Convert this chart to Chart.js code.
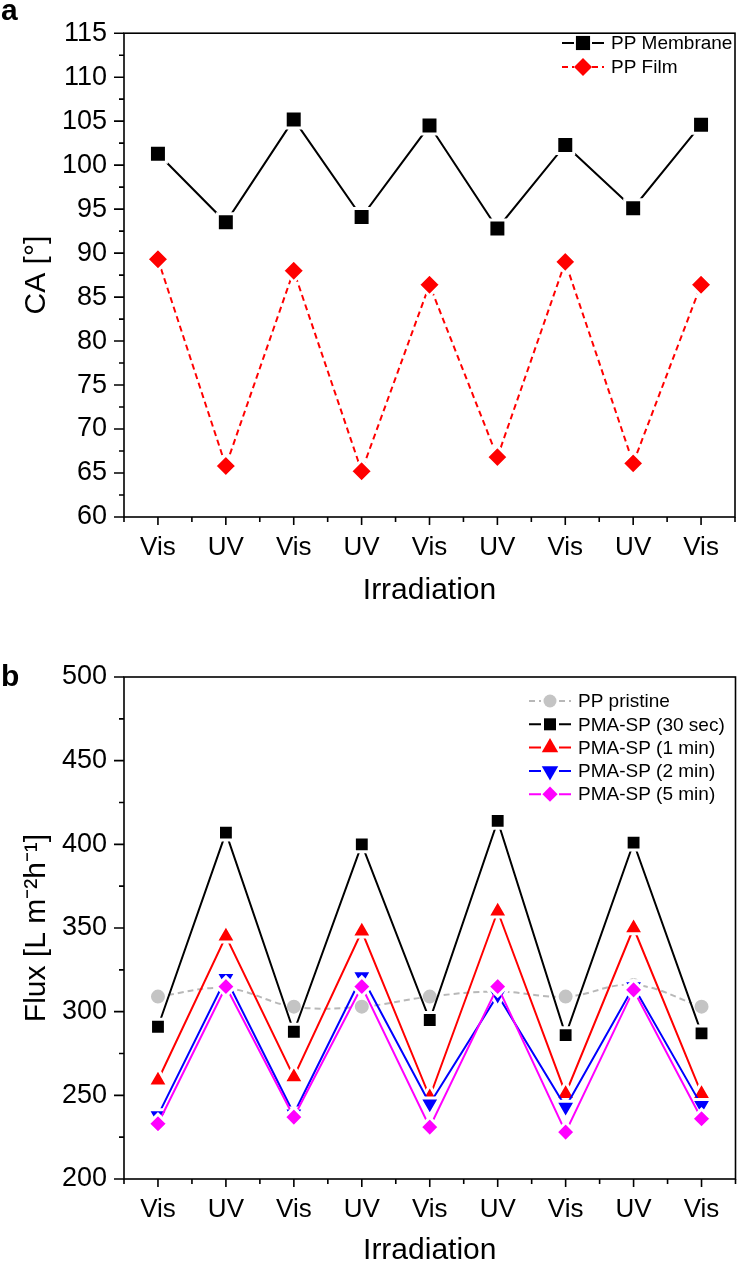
<!DOCTYPE html>
<html>
<head>
<meta charset="utf-8">
<script src="https://cdn.jsdelivr.net/npm/chart.js@4.4.0/dist/chart.umd.min.js"></script>
<style>
  html, body { margin: 0; padding: 0; background: #fff; }
  #wrap { position: relative; width: 750px; height: 1269px; font-family: "Liberation Sans", Arial, sans-serif; }
  .panel { position: absolute; left: 0; width: 750px; }
  .tag { position: absolute; left: 1px; font-weight: bold; font-size: 30px; line-height: 1; }
</style>
</head>
<body>
<div id="wrap">
  <div class="panel" style="top:0;height:630px"><canvas id="chartA" width="750" height="630"></canvas></div>
  <div class="panel" style="top:630px;height:639px"><canvas id="chartB" width="750" height="639"></canvas></div>
  <div class="tag" style="top:-5px">a</div>
  <div class="tag" style="top:661px">b</div>
</div>
<script>
// categories
const irradiation = ["Vis", "UV", "Vis", "UV", "Vis", "UV", "Vis", "UV", "Vis"];

// panel a: contact angle
const caMembrane = [101.3, 93.5, 105.2, 94.1, 104.5, 92.8, 102.3, 95.1, 104.6];
const caFilm = [89.3, 65.8, 88.0, 65.2, 86.4, 66.8, 89.0, 66.1, 86.4];
const caAxis = [60, 115, 5]; // min, max, step

// panel b: flux
const fluxPristine = [309, 314, 303, 303, 309, 312, 309, 316, 303];
const flux30s = [291, 407, 288, 400, 295, 414, 286, 401, 287];
const flux1min = [259, 345, 261, 348, 249, 360, 251, 350, 251];
const flux2min = [238, 320, 239, 321, 245, 310, 243, 315, 244];
const flux5min = [233, 315, 237, 315, 231, 315, 228, 313, 236];
const fluxAxis = [200, 500, 50];

const FONT = "'Liberation Sans', Arial, sans-serif";

const pts = (arr) => arr.map((v, i) => ({ x: i, y: v }));

// frame box + outward major/minor ticks (Origin style)
const frameTicks = {
  id: "frameTicks",
  afterDatasetsDraw(chart, args, opts) {
    const { ctx, chartArea: a, scales: { x, y } } = chart;
    ctx.save();
    ctx.strokeStyle = "#000";
    ctx.lineWidth = 1.6;
    ctx.strokeRect(a.left, a.top, a.right - a.left, a.bottom - a.top);
    ctx.beginPath();
    for (let v = x.min; v <= x.max + 1e-9; v += 0.5) {
      const px = x.getPixelForValue(v);
      const len = Number.isInteger(v) ? 8 : 5;
      ctx.moveTo(px, a.bottom);
      ctx.lineTo(px, a.bottom + len);
    }
    const step = opts.step;
    for (let k = 0; y.min + k * step / 2 <= y.max + 1e-9; k++) {
      const py = y.getPixelForValue(y.min + k * step / 2);
      ctx.moveTo(a.left, py);
      ctx.lineTo(a.left - (k % 2 === 0 ? 10 : 5), py);
    }
    ctx.stroke();
    ctx.restore();
  }
};

// legend with line + marker symbol
const symLegend = {
  id: "symLegend",
  afterDraw(chart, args, opts) {
    const ctx = chart.ctx;
    chart.data.datasets.forEach((ds, i) => {
      const cx = opts.x, cy = opts.y + i * opts.gap;
      ctx.save();
      ctx.strokeStyle = ds.borderColor;
      ctx.lineWidth = 2;
      ctx.setLineDash(ds.borderDash || []);
      ctx.beginPath();
      ctx.moveTo(cx - 21, cy); ctx.lineTo(cx - 9, cy);
      ctx.moveTo(cx + 9, cy); ctx.lineTo(cx + 21, cy);
      ctx.stroke();
      ctx.setLineDash([]);
      ctx.fillStyle = ds.pointBackgroundColor;
      Chart.helpers.drawPoint(ctx, {
        pointStyle: ds.pointStyle, rotation: ds.pointRotation || 0,
        radius: ds.pointRadius - 2, borderWidth: 0
      }, cx, cy);
      ctx.fillStyle = "#000";
      ctx.font = opts.size + "px " + FONT;
      ctx.textBaseline = "middle";
      ctx.textAlign = "left";
      ctx.fillText(ds.label, cx + 28, cy + 1);
      ctx.restore();
    });
  }
};

function series(label, data, color, style, radius, extra) {
  return Object.assign({
    label: label,
    data: pts(data),
    borderColor: color,
    backgroundColor: color,
    pointBackgroundColor: color,
    pointBorderColor: "#fff",
    pointBorderWidth: 3,
    borderWidth: 2,
    pointStyle: style,
    pointRadius: radius,
    tension: 0
  }, extra || {});
}

function makeOptions(axis, yTitle, padTop, xHeight, titlePad, legend) {
  return {
    responsive: false,
    animation: false,
    layout: { padding: { top: padTop, right: 2, left: 0, bottom: 0 } },
    plugins: {
      legend: { display: false },
      tooltip: { enabled: false },
      frameTicks: { step: axis[2] },
      symLegend: legend
    },
    scales: {
      x: {
        type: "linear",
        min: -0.5,
        max: irradiation.length - 0.5,
        afterBuildTicks: (s) => { s.ticks = irradiation.map((_, i) => ({ value: i })); },
        afterFit: (s) => { s.height = xHeight; },
        grid: { display: false, drawTicks: false },
        border: { display: false },
        ticks: {
          callback: (v) => irradiation[v],
          font: { family: FONT, size: 26 },
          color: "#000",
          padding: 15,
          maxRotation: 0,
          autoSkip: false
        },
        title: {
          display: true, text: "Irradiation", color: "#000",
          font: { family: FONT, size: 30 },
          padding: { top: 0, bottom: titlePad }
        }
      },
      y: {
        min: axis[0],
        max: axis[1],
        afterFit: (s) => { s.width = 124; },
        grid: { display: false, drawTicks: false },
        border: { display: false },
        ticks: {
          stepSize: axis[2],
          font: { family: FONT, size: 27 },
          color: "#000",
          padding: 17
        },
        title: {
          display: true, text: yTitle, color: "#000",
          font: { family: FONT, size: 30 },
          padding: { top: 19, bottom: 0 }
        }
      }
    }
  };
}

new Chart(document.getElementById("chartA"), {
  type: "line",
  data: {
    datasets: [
      series("PP Membrane", caMembrane, "#000000", "rect", 12),
      series("PP Film", caFilm, "#ff0000", "rectRot", 11, { borderDash: [6, 4] })
    ]
  },
  options: makeOptions(caAxis, "CA [°]", 14, 113, 21, { x: 583, y: 43, gap: 24, size: 19 }),
  plugins: [frameTicks, symLegend]
});

new Chart(document.getElementById("chartB"), {
  type: "line",
  data: {
    datasets: [
      series("PP pristine", fluxPristine, "#c4c4c4", "circle", 8.5,
        { borderColor: "#b8b8b8", borderDash: [6, 4], tension: 0.4, order: 4 }),
      series("PMA-SP (30 sec)", flux30s, "#000000", "rect", 10.5, { order: 3 }),
      series("PMA-SP (1 min)", flux1min, "#ff0000", "triangle", 11.5, { order: 2 }),
      series("PMA-SP (2 min)", flux2min, "#0000ff", "triangle", 11.5, { pointRotation: 180, order: 1 }),
      series("PMA-SP (5 min)", flux5min, "#ff00ff", "rectRot", 9.6, { order: 0 })
    ]
  },
  options: makeOptions(fluxAxis, "Flux [L m⁻²h⁻¹]", 47, 90, 0, { x: 550, y: 71, gap: 23.3, size: 19 }),
  plugins: [frameTicks, symLegend]
});
</script>
</body>
</html>
